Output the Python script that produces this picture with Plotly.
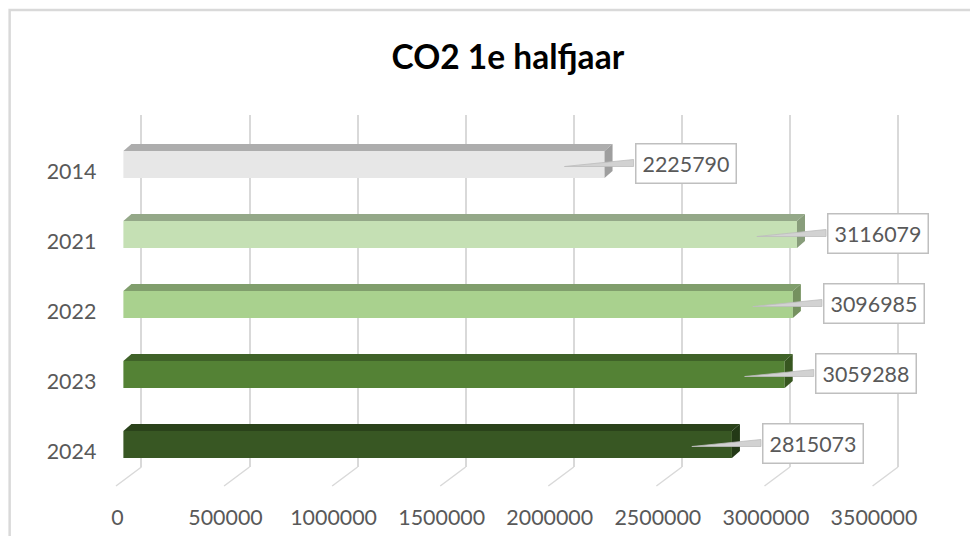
import plotly.graph_objects as go

# ---------------- data ----------------
years = ["2014", "2021", "2022", "2023", "2024"]
values = [2225790, 3116079, 3096985, 3059288, 2815073]
front_colors = ["#E7E7E7", "#C5E0B4", "#A9D18E", "#548235", "#385723"]
top_colors = ["#ADADAD", "#94A888", "#809E6C", "#3F6228", "#2A421A"]
side_colors = ["#9E9E9E", "#889D7B", "#75915F", "#375620", "#233916"]
x_ticks = [0, 500000, 1000000, 1500000, 2000000, 2500000, 3000000, 3500000]
title_text = "CO2 1e halfjaar"

# ---------------- layout geometry ----------------
# work in target screenshot pixels; the page is shown with an 8px body margin
# and a slight horizontal squeeze, both compensated here
PAGE_W, PAGE_H = 978, 544
OFF = 8
KX = 0.9826
W = int(round(PAGE_W / KX)) - 2 * OFF
H = PAGE_H - 2 * OFF


def fx(px):
    return (px / KX - OFF) / W


def fy(py):
    return 1 - (py - OFF) / H


def sx(v):
    return v / KX


L, R = 100, 900
X0_BACK, X_END_BACK, AXMAX = 141, 896, 3500000
X0_FRONT = 123
WALL_TOP, WALL_BOT, FLOOR_BOT = 115, 467, 490
ROW0, ROW_STEP = 164.5, 70
BAR_PX = 27
DEPTH_X, DEPTH_Y = 8, 7

s = (X_END_BACK - X0_BACK) / AXMAX  # screen px per unit
kt = (WALL_TOP - ROW0) / ROW_STEP
kb = (FLOOR_BOT - ROW0) / ROW_STEP
h = BAR_PX / ROW_STEP / 2
dxu = DEPTH_X / s
dyu = DEPTH_Y / ROW_STEP

FONT = "Lato"
TXT = "#595959"
GRID = "#D9D9D9"
FS = 21.4

fig = go.Figure()

pos = list(range(len(years)))

# front faces
fig.add_trace(go.Bar(
    x=values, y=pos, orientation="h", width=BAR_PX / ROW_STEP,
    marker=dict(color=front_colors, line=dict(width=0)),
    xaxis="x2", yaxis="y2", hoverinfo="skip", showlegend=False,
))

# top and side faces of the 3D bars
for k, v in enumerate(values):
    fig.add_trace(go.Scatter(
        x=[0, v, v + dxu, dxu, 0],
        y=[k - h, k - h, k - h - dyu, k - h - dyu, k - h],
        fill="toself", fillcolor=top_colors[k], mode="lines",
        line=dict(width=0), xaxis="x2", yaxis="y2",
        hoverinfo="skip", showlegend=False,
    ))
    fig.add_trace(go.Scatter(
        x=[v, v + dxu, v + dxu, v, v],
        y=[k - h, k - h - dyu, k + h - dyu, k + h, k - h],
        fill="toself", fillcolor=side_colors[k], mode="lines",
        line=dict(width=0), xaxis="x2", yaxis="y2",
        hoverinfo="skip", showlegend=False,
    ))

# callout wedges
LAB_DX = 80
LAB_DY = -1.5
for k, v in enumerate(values):
    yc = k + LAB_DY / ROW_STEP
    fig.add_trace(go.Scatter(
        x=[v - 40 / s, v + 29 / s, v + 29 / s, v - 40 / s],
        y=[k + 2 / ROW_STEP, yc - 3.5 / ROW_STEP, yc + 3.5 / ROW_STEP, k + 2 / ROW_STEP],
        fill="toself", fillcolor="#D2D2D2", mode="lines",
        line=dict(width=0.8, color="#BDBDBD"), xaxis="x2", yaxis="y2",
        hoverinfo="skip", showlegend=False,
    ))

annotations = []
for k, v in enumerate(values):
    annotations.append(dict(
        x=v, y=k, xref="x2", yref="y2", xshift=sx(LAB_DX), yshift=-LAB_DY,
        text=str(v), showarrow=False,
        font=dict(family=FONT, size=FS, color=TXT),
        bgcolor="white", bordercolor="#BFBFBF", borderwidth=1.5, borderpad=6,
        xanchor="center", yanchor="middle",
    ))

shapes = []
# chart border
shapes.append(dict(type="rect", xref="paper", yref="paper",
                   x0=fx(9.5), x1=1.2, y0=-0.2, y1=fy(10),
                   line=dict(color=GRID, width=2.5), fillcolor="rgba(0,0,0,0)"))
# slanted floor grid lines
for t in x_ticks:
    shapes.append(dict(type="line", xref="x", yref="paper",
                       xsizemode="pixel", xanchor=t, x0=0, x1=sx(-25),
                       ysizemode="pixel", yanchor=fy(WALL_BOT), y0=0, y1=-19,
                       line=dict(color=GRID, width=1.5)))

fig.update_layout(
    width=W, height=H,
    margin=dict(l=0, r=0, t=0, b=0),
    paper_bgcolor="white", plot_bgcolor="rgba(0,0,0,0)",
    showlegend=False,
    title=dict(text=title_text, x=fx(499), y=fy(57), xanchor="center", yanchor="middle",
               font=dict(family=FONT, size=33.5, color="#000000", weight="bold")),
    xaxis=dict(domain=[fx(L), fx(R)], anchor="y",
               range=[-(X0_BACK - L) / s, (R - X0_BACK) / s],
               tickvals=x_ticks, ticktext=[str(t) for t in x_ticks],
               showgrid=True, gridcolor=GRID, gridwidth=1.5, zeroline=False,
               showline=False, ticks="",
               ticklabelstandoff=36, ticklabelshift=int(round(sx(-24))),
               tickfont=dict(family=FONT, size=FS, color=TXT), fixedrange=True),
    yaxis=dict(domain=[fy(WALL_BOT), fy(WALL_TOP)], anchor="x",
               range=[0, 1], visible=False, showgrid=False, fixedrange=True),
    xaxis2=dict(domain=[fx(L), fx(R)], anchor="y2",
                range=[-(X0_FRONT - L) / s, (R - X0_FRONT) / s],
                visible=False, showgrid=False, zeroline=False, fixedrange=True),
    yaxis2=dict(domain=[fy(FLOOR_BOT), fy(WALL_TOP)], anchor="x2",
                range=[kb, kt], tickvals=[k + 6.5 / ROW_STEP for k in pos], ticktext=years,
                showgrid=False, zeroline=False, showline=False, ticks="",
                ticklabelstandoff=3,
                tickfont=dict(family=FONT, size=FS, color=TXT), fixedrange=True),
    annotations=annotations,
    shapes=shapes,
)

fig.write_html("out.html")
